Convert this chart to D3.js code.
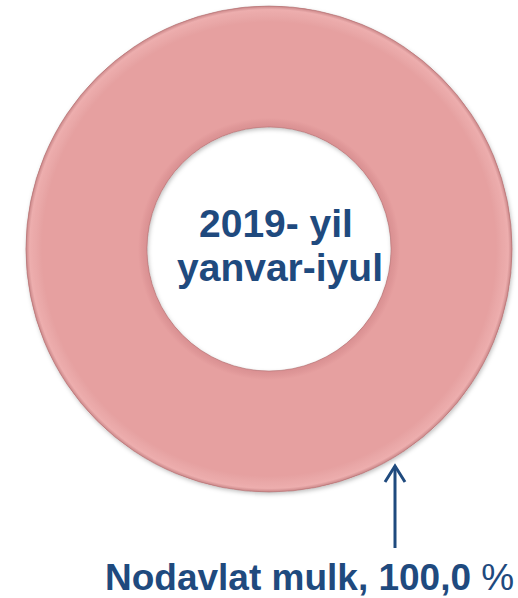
<!DOCTYPE html>
<html>

<head>
	<meta charset='utf-8'>
	<title>Donut</title>
	<script type='text/javascript' src='https://cdn.jsdelivr.net/npm/d3@7'></script>
	<style>
		body { margin: 0; background: #fff; }
	</style>
</head>

<body>
	<svg width='518' height='598'></svg>
	<script>
		const categories = ['Nodavlat mulk']
		const values = [100.0]
		const centerLines = ['2019- yil', 'yanvar-iyul']
		const colors = ['#e6a0a0']

		const svg = d3.select('svg')
		const cx = 269, cy = 249
		const outerR = 243, innerR = 122
		const textColor = '#1f4a7e'

		const defs = svg.append('defs')
		// soft bevel shading for the ring (centred on the g origin)
		const grad = defs.append('radialGradient')
			.attr('id', 'ringShade')
			.attr('gradientUnits', 'userSpaceOnUse')
			.attr('cx', 0).attr('cy', 0).attr('r', outerR)
		grad.append('stop').attr('offset', innerR / outerR).attr('stop-color', '#d88e90')
		grad.append('stop').attr('offset', innerR / outerR + 0.04).attr('stop-color', '#e7a1a1')
		grad.append('stop').attr('offset', 0.93).attr('stop-color', '#e6a0a0')
		grad.append('stop').attr('offset', 0.985).attr('stop-color', '#eeb0b0')
		grad.append('stop').attr('offset', 1).attr('stop-color', '#c88486')

		const shadow = defs.append('filter').attr('id', 'shadow')
			.attr('x', '-10%').attr('y', '-10%').attr('width', '120%').attr('height', '120%')
		shadow.append('feDropShadow')
			.attr('dx', 1).attr('dy', 2).attr('stdDeviation', 2)
			.attr('flood-color', '#000').attr('flood-opacity', 0.25)

		const data = categories.map((c, i) => ({ name: c, value: values[i] }))
		const pie = d3.pie().value(d => d.value).sort(null)
		const arc = d3.arc().innerRadius(innerR).outerRadius(outerR)

		const g = svg.append('g').attr('transform', `translate(${cx},${cy})`)
		g.selectAll('path.base')
			.data(pie(data))
			.join('path')
			.attr('class', 'base')
			.attr('d', arc)
			.attr('fill', (d, i) => colors[i])
			.attr('filter', 'url(#shadow)')
		g.selectAll('path.shade')
			.data(pie(data))
			.join('path')
			.attr('class', 'shade')
			.attr('d', arc)
			.attr('fill', 'url(#ringShade)')
			.attr('opacity', 0.9)
			.attr('stroke', '#a86a6c')
			.attr('stroke-opacity', 0.6)
			.attr('stroke-width', 1)

		// centre title
		svg.append('text')
			.attr('y', 237)
			.attr('text-anchor', 'middle')
			.attr('font-family', 'Liberation Sans, Arial, sans-serif')
			.attr('font-weight', 'bold')
			.attr('font-size', 39)
			.attr('fill', textColor)
			.selectAll('tspan')
			.data(centerLines)
			.join('tspan')
			.attr('x', (d, i) => i === 0 ? 276 : 280)
			.attr('dy', (d, i) => i === 0 ? 0 : 44)
			.text(d => d)

		// arrow pointing at the ring
		const ax = 395, ay0 = 548, ay1 = 465
		const arrow = svg.append('g')
			.attr('stroke', textColor)
			.attr('stroke-width', 3)
			.attr('fill', 'none')
		arrow.append('line').attr('x1', ax).attr('x2', ax).attr('y1', ay0).attr('y2', ay1 + 1)
		arrow.append('polyline')
			.attr('points', `${ax - 10},${ay1 + 17} ${ax},${ay1 + 1} ${ax + 10},${ay1 + 17}`)

		// label
		const label = svg.append('text')
			.attr('x', 105)
			.attr('y', 590)
			.attr('font-family', 'Liberation Sans, Arial, sans-serif')
			.attr('font-weight', 'bold')
			.attr('font-size', 37)
			.attr('fill', textColor)
		label.append('tspan').text(`${data[0].name}, ${d3.format('.1f')(data[0].value).replace('.', ',')} `)
		label.append('tspan').attr('font-weight', 'normal').text('%')
	</script>
</body>

</html>
